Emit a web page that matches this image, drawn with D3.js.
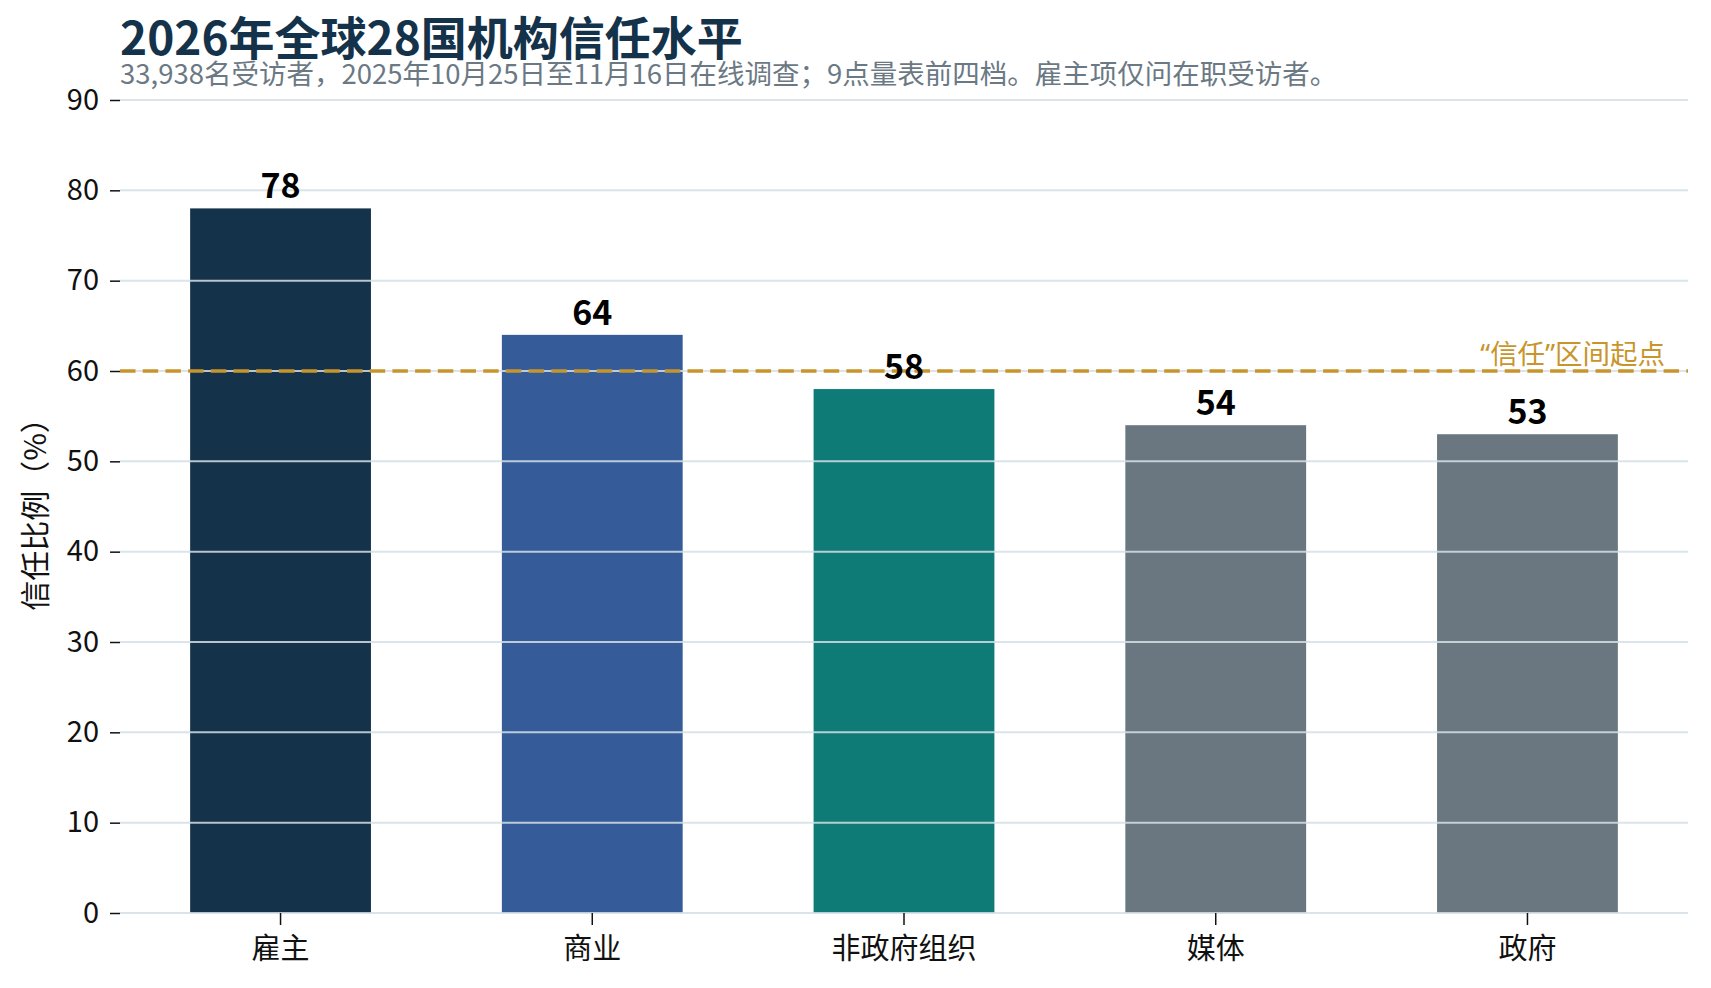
<!DOCTYPE html>
<html><head><meta charset="utf-8">
<script src="https://cdn.jsdelivr.net/npm/d3@7"></script>
<style>
html,body{margin:0;padding:0;background:#fff;}
svg{display:block;font-family:"Noto Sans CJK SC","Noto Sans",sans-serif;}
</style></head>
<body><svg id="chart" width="1711" height="988"></svg>
<script>
const categories = ["雇主","商业","非政府组织","媒体","政府"];
const values = [78,64,58,54,53];
const barColors = ["#143249","#355c99","#0f7b77","#6a7781","#6a7781"];
const yTicks = [0,10,20,30,40,50,60,70,80,90];
const threshold = 60;
const thresholdLabelParts = ["“","信任","”","区间起点"];
const title = "2026年全球28国机构信任水平";
const subtitle = "33,938名受访者，2025年10月25日至11月16日在线调查；9点量表前四档。雇主项仅问在职受访者。";
const yLabel = "信任比例（%）";

const svg = d3.select("#chart");
const L = 120, R = 1688, T = 100, B = 913;
const CJK = '"Noto Sans CJK SC",sans-serif';

const x = d3.scaleBand().domain(categories).range([L, R]).paddingInner(0.42).paddingOuter(0.225);
const y = d3.scaleLinear().domain([0, 90]).range([B, T]);

// bars
svg.append("g").selectAll("rect").data(categories).join("rect")
  .attr("x", d => x(d)).attr("width", x.bandwidth())
  .attr("y", (d,i) => y(values[i])).attr("height", (d,i) => y(0) - y(values[i]))
  .attr("fill", (d,i) => barColors[i]);

// gridlines (drawn over bars)
svg.append("g").selectAll("line").data(yTicks).join("line")
  .attr("x1", L).attr("x2", R).attr("y1", d => y(d)).attr("y2", d => y(d))
  .attr("stroke", "#d5dfe6").attr("stroke-opacity", 0.85).attr("stroke-width", 2);

// y axis
const yAxis = svg.append("g").attr("transform", `translate(${L},0)`)
  .call(d3.axisLeft(y).tickValues(yTicks).tickSize(10).tickPadding(11));
yAxis.select(".domain").remove();
yAxis.selectAll(".tick line").attr("stroke", "#111").attr("stroke-width", 1.5);
yAxis.selectAll(".tick text").attr("font-size", 29).attr("fill", "#111").attr("font-family", CJK);

// x axis
const xAxis = svg.append("g").attr("transform", `translate(0,${B})`)
  .call(d3.axisBottom(x).tickSize(12).tickPadding(13));
xAxis.select(".domain").remove();
xAxis.selectAll(".tick line").attr("stroke", "#111").attr("stroke-width", 1.5);
xAxis.selectAll(".tick text").attr("font-size", 29).attr("fill", "#111").attr("font-family", CJK);

// threshold line
svg.append("line").attr("x1", L).attr("x2", R).attr("y1", y(threshold)).attr("y2", y(threshold))
  .attr("stroke", "#c8952d").attr("stroke-width", 3.5).attr("stroke-dasharray", "15.5,7.2");
const tl = svg.append("text").attr("x", 1665).attr("y", y(threshold) - 7).attr("text-anchor", "end")
  .attr("font-size", 27.5).attr("fill", "#c8952d");
thresholdLabelParts.forEach((p, i) => {
  tl.append("tspan").attr("font-family", (i === 0 || i === 2) ? '"Noto Sans",sans-serif' : CJK).text(p);
});

// value labels
svg.append("g").selectAll("text").data(categories).join("text")
  .attr("x", d => x(d) + x.bandwidth()/2).attr("y", (d,i) => y(values[i]) - 10)
  .attr("text-anchor", "middle").attr("font-size", 34).attr("font-weight", "bold").attr("fill", "#000")
  .text((d,i) => values[i]);

// title & subtitle
svg.append("text").attr("x", 120).attr("y", 55).attr("font-size", 46).attr("font-weight", "bold")
  .attr("fill", "#14324a").text(title);
svg.append("text").attr("x", 120).attr("y", 84).attr("font-size", 27.5)
  .attr("fill", "#6b7984").text(subtitle);

// y label
svg.append("text").attr("transform", `translate(46,507) rotate(-90)`).attr("text-anchor", "middle")
  .attr("font-size", 30).attr("fill", "#111").text(yLabel);
</script></body></html>
